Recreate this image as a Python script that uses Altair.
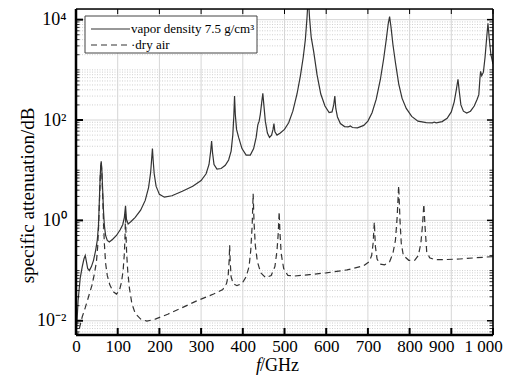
import altair as alt
import pandas as pd

# ---- data ----
vap_f = [1, 5, 10, 15, 19, 22.2, 25, 28, 32, 37, 42, 47, 51, 54, 56, 58, 59.5, 60.5, 62, 64,
         66, 68, 71, 75, 80, 88, 97, 106, 112, 116, 118.75, 121, 125, 132, 142, 155, 166, 174,
         179, 181.5, 183.3, 185, 187.5, 192, 200, 212, 230, 255, 280, 300, 312, 319, 323, 325.2,
         327.5, 331, 338, 348, 358, 366, 372, 376, 378.5, 380.2, 382, 385, 390, 398, 408, 418,
         426, 432, 436, 439.2, 442, 445.5, 448, 450.5, 454, 459, 464, 469, 472.5, 474.7, 477,
         482, 490, 500, 510, 520, 530, 538, 545, 550, 554, 557, 560, 564, 570, 578, 587, 597,
         607, 614, 618, 620.7, 623, 627, 634, 644, 653, 658, 663, 675, 690, 700, 710, 720, 730,
         738, 744, 748.5, 752, 755.5, 760, 766, 774, 782, 792, 805, 820, 840, 855, 859, 864, 878,
         890, 900, 907, 912, 916, 919, 923, 929, 937, 946, 955, 962, 966, 968.5, 970.3, 973, 977,
         981, 985, 987.9, 991, 995, 1000]
vap_v = [0.006, 0.025, 0.07, 0.12, 0.17, 0.2, 0.15, 0.11, 0.1, 0.12, 0.16, 0.25, 0.4, 0.8, 2.5,
         7.5, 13, 15, 10, 4, 1.5, 0.8, 0.5, 0.4, 0.37, 0.42, 0.5, 0.65, 0.82, 1.15, 1.95, 1.05,
         0.85, 0.95, 1.15, 1.6, 2.5, 4.5, 9, 17, 27, 16, 8.5, 4.8, 3.3, 2.9, 3.1, 3.8, 4.8, 6.2,
         8.5, 13, 24, 38, 22, 13, 10.5, 10.8, 12.5, 16, 24, 50, 120, 300, 130, 65, 45, 27, 20,
         20, 27, 45, 80, 95, 130, 230, 340, 200, 95, 55, 45, 50, 65, 85, 58, 50, 55, 65, 88, 150,
         330, 750, 1800, 4000, 11000, 30000, 11000, 4500, 2300, 800, 330, 190, 140, 145, 200,
         300, 170, 115, 85, 74, 73, 76, 71, 70, 78, 95, 140, 260, 650, 1700, 4000, 8000, 11500,
         7000, 3200, 1400, 520, 270, 170, 118, 95, 89, 88, 91, 88, 93, 108, 145, 230, 400, 650,
         380, 200, 150, 138, 150, 190, 260, 320, 650, 930, 760, 900, 1800, 4500, 8500, 4200,
         2000, 1300]

dry_f = [1, 8, 15, 22, 30, 38, 44, 49, 52, 54, 56, 58, 59.5, 60.5, 62, 64, 66, 68, 71, 75, 81,
         89, 97, 104, 109, 113, 116, 117.8, 118.75, 119.8, 121.5, 124, 128, 134, 142, 155, 170,
         190, 220, 250, 290, 330, 352, 361, 365, 367.3, 368.5, 369.8, 372, 377, 386, 398, 408,
         415, 419, 422.5, 424.8, 427, 430, 435, 443, 455, 468, 477, 482, 485.3, 487.2, 489, 492,
         498, 508, 525, 560, 600, 650, 690, 703, 709, 712.5, 715.4, 718, 722, 729, 740, 752, 760,
         766, 770, 773.8, 777, 780, 785, 798, 812, 821, 827, 831, 834.1, 837, 841, 848, 860, 880,
         920, 960, 1000]
dry_v = [0.0045, 0.007, 0.012, 0.018, 0.03, 0.05, 0.085, 0.15, 0.3, 0.7, 2, 6.5, 12, 14.5, 9,
         3, 0.9, 0.35, 0.14, 0.08, 0.052, 0.038, 0.034, 0.04, 0.058, 0.1, 0.22, 0.55, 1.4, 0.55,
         0.22, 0.1, 0.045, 0.022, 0.014, 0.0108, 0.0098, 0.0108, 0.0135, 0.0175, 0.025, 0.034,
         0.042, 0.055, 0.08, 0.16, 0.32, 0.15, 0.075, 0.055, 0.05, 0.055, 0.075, 0.12, 0.25, 0.8,
         3.4, 0.9, 0.32, 0.15, 0.09, 0.072, 0.08, 0.12, 0.25, 0.6, 1.5, 0.6, 0.22, 0.11, 0.08,
         0.078, 0.083, 0.09, 0.103, 0.125, 0.15, 0.2, 0.35, 0.93, 0.3, 0.17, 0.135, 0.13, 0.15,
         0.22, 0.4, 1.1, 4.9, 1.0, 0.35, 0.2, 0.16, 0.16, 0.2, 0.35, 0.8, 2.1, 0.75, 0.24, 0.18,
         0.165, 0.165, 0.17, 0.18, 0.19]

x_ticks = [0, 100, 200, 300, 400, 500, 600, 700, 800, 900, 1000]
y_major = [0.01, 1, 100, 10000]
y_minor = [m * 10.0 ** e for e in range(-3, 5) for m in range(1, 10)
           if 0.0052 < m * 10.0 ** e < 16300 and not (m == 1 and e % 2 == 0)]

legend_labels = ["vapor density 7.5 g/cm\u00b3", "dry air"]

W, H = 417, 326
FONT = "Liberation Serif"
LINE = "#333333"

xscale = alt.Scale(domain=[0, 1000], nice=False, zero=False)
yscale = alt.Scale(type="log", domain=[0.0052, 16300], nice=False)

df_vap = pd.DataFrame({"f": vap_f, "v": vap_v})
df_dry = pd.DataFrame({"f": dry_f, "v": dry_v})
df_xt = pd.DataFrame({"f": x_ticks})
df_ymaj = pd.DataFrame({"v": y_major})
df_ymin = pd.DataFrame({"v": y_minor})
one = pd.DataFrame({"a": [0]})

xaxis = alt.Axis(values=x_ticks, ticks=False, domain=False, grid=False, title=None,
                 labelExpr="datum.value == 1000 ? '1 000' : datum.label",
                 labelFont=FONT, labelFontSize=17, labelColor="black", labelPadding=3,
                 labelOverlap=False, labelBound=False, labelFlush=False,
                 labelOffset={"condition": {"test": "datum.value >= 900", "value": -10}, "value": 0})
yaxis = alt.Axis(values=y_major, ticks=False, domain=False, grid=False,
                 title="specific attenuation/dB",
                 labelExpr="datum.value > 5000 ? '10\u2074' : datum.value > 50 ? '10\u00b2' : datum.value > 0.5 ? '10\u2070' : '10\u207b\u00b2'",
                 labelFont=FONT, labelFontSize=18, labelColor="black", labelPadding=10,
                 labelOverlap=False, labelBound=False, labelFlush=False,
                 titleFont=FONT, titleFontSize=19, titleFontWeight="normal", titleColor="black",
                 titleX=-49, titleY=186, titleAngle=270, titleAlign="center", titleBaseline="middle")


def X(field="f"):
    return alt.X(f"{field}:Q", scale=xscale, axis=xaxis)


def Y(field="v"):
    return alt.Y(f"{field}:Q", scale=yscale, axis=yaxis)


grid_minor = alt.Chart(df_ymin).mark_rule(color="#c4c4c4", strokeDash=[1, 1.5], strokeWidth=0.8).encode(y=Y())
grid_major = alt.Chart(df_ymaj).mark_rule(color="#d6d6d6", strokeWidth=1).encode(y=Y())
grid_x = alt.Chart(df_xt).mark_rule(color="#d6d6d6", strokeWidth=1).encode(x=X())

line_vap = alt.Chart(df_vap).mark_line(color=LINE, strokeWidth=1.2, clip=True).encode(x=X(), y=Y())
line_dry = alt.Chart(df_dry).mark_line(color=LINE, strokeWidth=1.2, strokeDash=[6, 4], clip=True).encode(
    x=X(), y=Y())

# ticks (inward)
xt_bot = alt.Chart(df_xt).mark_rule(color="black", strokeWidth=2).encode(
    x=X(), y=alt.value(H), y2=alt.value(H - 7))
xt_top = alt.Chart(df_xt).mark_rule(color="black", strokeWidth=1).encode(
    x=X(), y=alt.value(0), y2=alt.value(5))
yt_maj_l = alt.Chart(df_ymaj).mark_rule(color="black", strokeWidth=2).encode(
    y=Y(), x=alt.value(0), x2=alt.value(7))
yt_maj_r = alt.Chart(df_ymaj).mark_rule(color="black", strokeWidth=1.5).encode(
    y=Y(), x=alt.value(W), x2=alt.value(W - 6))
yt_min_l = alt.Chart(df_ymin).mark_rule(color="black", strokeWidth=0.8).encode(
    y=Y(), x=alt.value(0), x2=alt.value(3.5))
yt_min_r = alt.Chart(df_ymin).mark_rule(color="black", strokeWidth=0.8).encode(
    y=Y(), x=alt.value(W), x2=alt.value(W - 3.5))

# frame
fr_left = alt.Chart(one).mark_rule(color="black", strokeWidth=2.5).encode(
    x=alt.value(0), y=alt.value(0), y2=alt.value(H))
fr_bot = alt.Chart(one).mark_rule(color="black", strokeWidth=2.5).encode(
    x=alt.value(0), x2=alt.value(W), y=alt.value(H))
fr_top = alt.Chart(one).mark_rule(color="black", strokeWidth=1.6).encode(
    x=alt.value(0), x2=alt.value(W), y=alt.value(0))
fr_right = alt.Chart(one).mark_rule(color="black", strokeWidth=1.6).encode(
    x=alt.value(W), y=alt.value(0), y2=alt.value(H))

# legend
leg_box = alt.Chart(one).mark_rect(fill="white", stroke="#444444", strokeWidth=1).encode(
    x=alt.value(9), x2=alt.value(181), y=alt.value(7), y2=alt.value(44))
leg_l1 = alt.Chart(one).mark_rule(color=LINE, strokeWidth=1.2).encode(
    x=alt.value(15), x2=alt.value(54), y=alt.value(20))
leg_l2 = alt.Chart(one).mark_rule(color=LINE, strokeWidth=1.2, strokeDash=[6, 4]).encode(
    x=alt.value(15), x2=alt.value(54), y=alt.value(36))
leg_t1 = alt.Chart(one).mark_text(align="left", baseline="middle", font=FONT, fontSize=13, color="black").encode(
    x=alt.value(55), y=alt.value(20), text=alt.value(legend_labels[0]))
leg_t2 = alt.Chart(one).mark_text(align="left", baseline="middle", font=FONT, fontSize=13, color="black").encode(
    x=alt.value(55), y=alt.value(36), text=alt.value("\u00b7" + legend_labels[1]))

# x title: italic f + /GHz
xt_f = alt.Chart(one).mark_text(align="right", baseline="alphabetic", font=FONT, fontSize=18,
                                fontStyle="italic", color="black").encode(
    x=alt.value(185), y=alt.value(362), text=alt.value("f"))
xt_rest = alt.Chart(one).mark_text(align="left", baseline="alphabetic", font=FONT, fontSize=18,
                                   color="black").encode(
    x=alt.value(184), y=alt.value(362), text=alt.value("/GHz"))

chart = alt.layer(
    grid_minor, grid_major, grid_x, line_dry, line_vap,
    xt_bot, xt_top, yt_maj_l, yt_maj_r, yt_min_l, yt_min_r,
    fr_left, fr_bot, fr_top, fr_right,
    leg_box, leg_l1, leg_l2, leg_t1, leg_t2, xt_f, xt_rest
).properties(
    width=W, height=H,
    autosize="none",
    padding={"left": 68, "top": 1, "right": 20, "bottom": 41},
).configure_view(stroke=None).configure(background="white")

chart.save("out.html", embed_options={"renderer": "svg", "actions": False})
